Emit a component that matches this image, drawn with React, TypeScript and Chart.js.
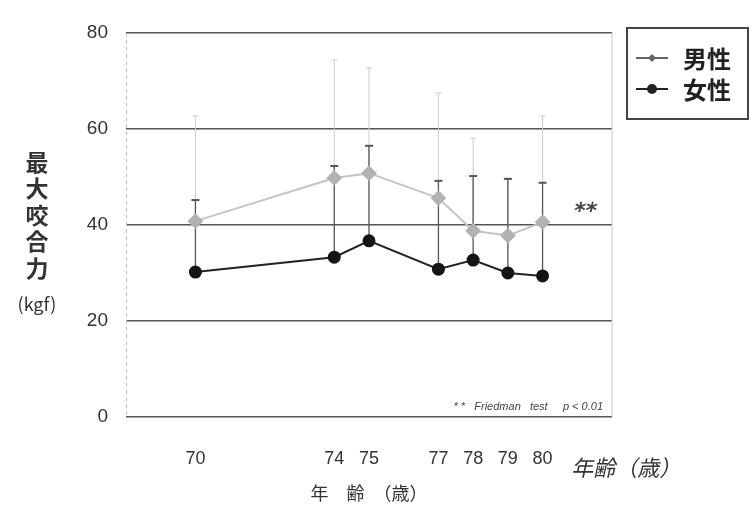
import React, { useEffect, useRef } from "react";
import { Chart, registerables } from "chart.js";

Chart.register(...registerables);

// ---- data ----
const ages = [70, 74, 75, 77, 78, 79, 80];
const maleMean = [40.8, 49.8, 50.8, 45.6, 38.8, 37.8, 40.6];
const maleUpper = [62.7, 74.4, 72.7, 67.5, 58.1, 49.8, 62.7];
const femaleMean = [30.2, 33.3, 36.7, 30.8, 32.7, 30.0, 29.4];
const femaleUpper = [45.2, 52.3, 56.5, 49.2, 50.2, 49.6, 48.8];
const xTickValues = [70, 74, 75, 77, 78, 79, 80];
const seriesNames = ["男性", "女性"];
const yTitleChars = ["最", "大", "咬", "合", "力"];
const yUnit = "(kgf)";
const xTitle = "年　齢　（歳）";
const xSideLabel = "年齢（歳）";
const sigMark = "**";
const noteText = "* *   Friedman   test     p < 0.01";

const MALE_LINE = "#c4c4c4";
const MALE_PT = "#b2b2b2";
const FEMALE = "#222222";
const TEXT = "#333333";

const errorBarsPlugin = {
  id: "errorBars",
  beforeDatasetsDraw(chart: any) {
    const { ctx, scales, chartArea } = chart;
    const x = scales.x;
    const y = scales.y;
    ctx.save();
    // faint dashed left border
    ctx.strokeStyle = "#c0c0c0";
    ctx.lineWidth = 1;
    ctx.setLineDash([4, 3]);
    ctx.beginPath();
    ctx.moveTo(chartArea.left + 0.5, chartArea.top);
    ctx.lineTo(chartArea.left + 0.5, chartArea.bottom);
    ctx.stroke();
    ctx.setLineDash([]);
    ages.forEach((a, i) => {
      const px = x.getPixelForValue(a);
      // male (light)
      const m0 = y.getPixelForValue(maleMean[i]);
      const m1 = y.getPixelForValue(maleUpper[i]);
      ctx.strokeStyle = "#cccccc";
      ctx.lineWidth = 1;
      ctx.beginPath();
      ctx.moveTo(px, m0);
      ctx.lineTo(px, m1);
      ctx.moveTo(px - 3, m1);
      ctx.lineTo(px + 3, m1);
      ctx.stroke();
      // female (dark)
      const f0 = y.getPixelForValue(femaleMean[i]);
      const f1 = y.getPixelForValue(femaleUpper[i]);
      ctx.strokeStyle = "#555555";
      ctx.lineWidth = 1.3;
      ctx.beginPath();
      ctx.moveTo(px, f0);
      ctx.lineTo(px, f1);
      ctx.stroke();
      ctx.lineWidth = 2;
      ctx.beginPath();
      ctx.moveTo(px - 4, f1);
      ctx.lineTo(px + 4, f1);
      ctx.stroke();
    });
    ctx.restore();
  },
};

const decorPlugin = {
  id: "decor",
  afterDraw(chart: any) {
    const { ctx, chartArea } = chart;
    ctx.save();
    // right border of plot
    ctx.strokeStyle = "#c8c8c8";
    ctx.lineWidth = 1;
    ctx.beginPath();
    ctx.moveTo(chartArea.right, chartArea.top);
    ctx.lineTo(chartArea.right, chartArea.bottom);
    ctx.stroke();

    // y title (vertical stacked)
    ctx.fillStyle = TEXT;
    ctx.textAlign = "center";
    ctx.textBaseline = "middle";
    ctx.font = "bold 23px 'Noto Sans CJK JP'";
    yTitleChars.forEach((c, i) => {
      ctx.fillText(c, 37, 162 + i * 26.5);
    });
    ctx.font = "18px 'Noto Sans CJK JP'";
    ctx.fillText(yUnit, 37, 304);

    // significance mark
    ctx.save();
    ctx.translate(585, 212);
    ctx.transform(1, 0, -0.2, 1, 0, 0);
    ctx.font = "bold 22px 'DejaVu Sans'";
    ctx.fillStyle = "#444";
    ctx.fillText(sigMark, 0, 0);
    ctx.restore();

    // note
    ctx.font = "italic 11px 'Liberation Sans'";
    ctx.textAlign = "right";
    ctx.fillStyle = "#444";
    ctx.fillText(noteText, 603, 407);

    // side label
    ctx.save();
    ctx.translate(573, 468);
    ctx.transform(1, 0, -0.22, 1, 0, 0);
    ctx.textAlign = "left";
    ctx.font = "22px 'Noto Sans CJK JP'";
    ctx.fillStyle = TEXT;
    ctx.fillText(xSideLabel, 0, 0);
    ctx.restore();

    // legend box
    ctx.strokeStyle = "#444";
    ctx.lineWidth = 2;
    ctx.strokeRect(627, 28, 121, 91);
    const rows = [58, 89];
    // male symbol
    ctx.strokeStyle = "#666";
    ctx.lineWidth = 2;
    ctx.beginPath();
    ctx.moveTo(636, rows[0]);
    ctx.lineTo(668, rows[0]);
    ctx.stroke();
    ctx.fillStyle = "#666";
    ctx.beginPath();
    ctx.moveTo(652, rows[0] - 4);
    ctx.lineTo(656, rows[0]);
    ctx.lineTo(652, rows[0] + 4);
    ctx.lineTo(648, rows[0]);
    ctx.closePath();
    ctx.fill();
    // female symbol
    ctx.strokeStyle = FEMALE;
    ctx.beginPath();
    ctx.moveTo(636, rows[1]);
    ctx.lineTo(668, rows[1]);
    ctx.stroke();
    ctx.fillStyle = FEMALE;
    ctx.beginPath();
    ctx.arc(652, rows[1], 5, 0, Math.PI * 2);
    ctx.fill();
    // legend texts
    ctx.fillStyle = "#222";
    ctx.textAlign = "left";
    ctx.font = "bold 24px 'Noto Sans CJK JP'";
    ctx.fillText(seriesNames[0], 683, rows[0] + 1);
    ctx.fillText(seriesNames[1], 683, rows[1] + 1);
    ctx.restore();
  },
};

export default function App() {
  const ref = useRef<HTMLCanvasElement>(null);
  useEffect(() => {
    if (!ref.current) return;
    const chart = new Chart(ref.current, {
      type: "line",
      data: {
        datasets: [
          {
            label: seriesNames[0],
            data: ages.map((a, i) => ({ x: a, y: maleMean[i] })),
            borderColor: MALE_LINE,
            borderWidth: 2,
            pointStyle: "rectRot",
            pointRadius: 6.5,
            pointBackgroundColor: MALE_PT,
            pointBorderColor: MALE_PT,
            tension: 0,
          },
          {
            label: seriesNames[1],
            data: ages.map((a, i) => ({ x: a, y: femaleMean[i] })),
            borderColor: FEMALE,
            borderWidth: 2,
            pointStyle: "circle",
            pointRadius: 5.5,
            pointBackgroundColor: "#151515",
            pointBorderColor: "#151515",
            tension: 0,
          },
        ],
      },
      options: {
        animation: false,
        responsive: true,
        maintainAspectRatio: false,
        layout: { padding: { left: 0, top: 33, right: 140, bottom: 0 } },
        plugins: {
          legend: { display: false },
          tooltip: { enabled: false },
        },
        scales: {
          x: {
            type: "linear",
            position: "bottom",
            min: 68,
            max: 82,
            grid: { display: false, drawTicks: false },
            border: { display: false },
            afterBuildTicks: (s: any) => {
              s.ticks = xTickValues.map((v) => ({ value: v }));
            },
            afterFit: (s: any) => {
              s.height = 88;
            },
            ticks: {
              autoSkip: false,
              maxRotation: 0,
              padding: 31,
              color: TEXT,
              font: { size: 18, family: "'Liberation Sans', Arial, sans-serif" },
              callback: (v: any) => String(v),
            },
            title: {
              display: true,
              text: xTitle,
              color: TEXT,
              font: { size: 18, family: "'Noto Sans CJK JP'" },
              padding: { top: 0, bottom: 1 },
            },
          },
          y: {
            min: 0,
            max: 80,
            grid: { color: "#555555", lineWidth: 1.5, drawTicks: false },
            border: { display: false },
            afterFit: (s: any) => {
              s.width = 126;
            },
            ticks: {
              stepSize: 20,
              padding: 18,
              color: TEXT,
              font: { size: 19, family: "'Liberation Sans', Arial, sans-serif" },
            },
          },
        },
      },
      plugins: [errorBarsPlugin, decorPlugin],
    } as any);
    return () => chart.destroy();
  }, []);
  return (
    <div style={{ position: "fixed", left: 0, top: 0, width: 752, height: 505, background: "#fff" }}>
      <canvas ref={ref} />
    </div>
  );
}
